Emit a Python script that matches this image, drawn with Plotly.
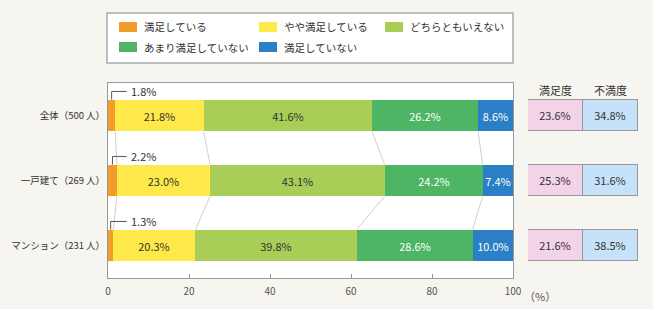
import plotly.graph_objects as go

categories = ["全体（500 人）", "一戸建て（269 人）", "マンション（231 人）"]
series_names = ["満足している", "やや満足している", "どちらともいえない", "あまり満足していない", "満足していない"]
v_satisfied = [1.8, 2.2, 1.3]
v_somewhat = [21.8, 23.0, 20.3]
v_neutral = [41.6, 43.1, 39.8]
v_not_much = [26.2, 24.2, 28.6]
v_not = [8.6, 7.4, 10.0]
sat_degree = [23.6, 25.3, 21.6]
dissat_degree = [34.8, 31.6, 38.5]
x_tickvals = [0, 20, 40, 60, 80, 100]
x_ticktext = ["0", "20", "40", "60", "80", "100"]

colors = ["#F39C2C", "#FFE94A", "#A8CE58", "#4DB563", "#2A7FC6"]
text_colors = ["#333333", "#333333", "#333333", "#FFFFFF", "#FFFFFF"]
series = [v_satisfied, v_somewhat, v_neutral, v_not_much, v_not]
FONT = "Noto Sans CJK JP"
BAR_W = 0.49

fig = go.Figure()
for i, (name, vals) in enumerate(zip(series_names, series)):
    fig.add_trace(go.Bar(
        y=categories, x=vals, orientation="h", name=name, width=BAR_W,
        marker=dict(color=colors[i], line=dict(width=0)),
        text=([""] * len(vals)) if i == 0 else [f"{v:.1f}%" for v in vals],
        textposition="inside", insidetextanchor="middle", constraintext="none", textangle=0,
        textfont=dict(family=FONT, size=11, color=text_colors[i]),
        showlegend=False, hoverinfo="skip",
    ))

# side table
fig.add_trace(go.Bar(
    y=categories, x=[1] * 3, orientation="h", xaxis="x2", width=BAR_W,
    marker=dict(color="#F2D3E8", line=dict(color="#999999", width=1)),
    text=[f"{v:.1f}%" for v in sat_degree], textposition="inside", textangle=0,
    insidetextanchor="middle", constraintext="none",
    textfont=dict(family=FONT, size=11, color="#333333"), showlegend=False, hoverinfo="skip"))
fig.add_trace(go.Bar(
    y=categories, x=[1] * 3, orientation="h", xaxis="x2", width=BAR_W,
    marker=dict(color="#C6E2FA", line=dict(color="#999999", width=1)),
    text=[f"{v:.1f}%" for v in dissat_degree], textposition="inside", textangle=0,
    insidetextanchor="middle", constraintext="none",
    textfont=dict(family=FONT, size=11, color="#333333"), showlegend=False, hoverinfo="skip"))

shapes = []
annotations = []
# white plot area
shapes.append(dict(type="rect", xref="x domain", yref="y domain", x0=0, x1=1, y0=0, y1=1,
                   fillcolor="#FFFFFF", line=dict(width=0), layer="below"))

# connector lines between rows
cums = []
for r in range(3):
    c = 0
    row = []
    for s in series[:-1]:
        c += s[r]
        row.append(c)
    cums.append(row)
for r in range(2):
    for k in range(4):
        shapes.append(dict(type="line", xref="x", yref="y",
                           x0=cums[r][k], y0=r + BAR_W / 2, x1=cums[r + 1][k], y1=r + 1 - BAR_W / 2,
                           line=dict(color="#CFCFCF", width=1), layer="below"))

# small-value leader labels
for r in range(3):
    xm = v_satisfied[r] / 2
    ytop = r - BAR_W / 2
    yl = ytop - 0.125
    shapes.append(dict(type="line", xref="x", yref="y", x0=xm, y0=ytop, x1=xm, y1=yl,
                       line=dict(color="#555555", width=1)))
    shapes.append(dict(type="line", xref="x", yref="y", x0=xm, y0=yl, x1=4.6, y1=yl,
                       line=dict(color="#555555", width=1)))
    annotations.append(dict(xref="x", yref="y", x=5.3, y=yl, text=f"{v_satisfied[r]:.1f}%",
                            showarrow=False, xanchor="left", yanchor="middle",
                            font=dict(family=FONT, size=11, color="#333333")))

# table headers
for xi, t in [(0.5, "満足度"), (1.5, "不満度")]:
    annotations.append(dict(xref="x2", yref="y", x=xi, y=-0.5 + 0.1, text=t, showarrow=False,
                            xanchor="center", yanchor="middle",
                            font=dict(family=FONT, size=11, color="#333333")))

# (%) unit
annotations.append(dict(xref="x", yref="paper", x=100, y=0, text="（%）", showarrow=False,
                        xanchor="left", yanchor="top", xshift=9, yshift=-8,
                        font=dict(family=FONT, size=11, color="#555555")))

# manual legend
W, H, L, B = 653, 309, 108, 31
pw, ph = W - L - 15, H - 83 - B


def px(xp):
    return (xp - L) / pw


def py(yp):
    return (H - B - yp) / ph


shapes.append(dict(type="rect", xref="paper", yref="paper", x0=px(107), x1=px(513),
                   y0=py(63), y1=py(13), fillcolor="#FFFFFF", line=dict(color="#AAAAAA", width=1.5)))
leg_pos = [(119, 27), (259, 27), (385, 27), (119, 47), (259, 47)]
for i, (name, (sx, sy)) in enumerate(zip(series_names, leg_pos)):
    shapes.append(dict(type="rect", xref="paper", yref="paper", x0=px(sx), x1=px(sx + 18),
                       y0=py(sy + 5), y1=py(sy - 5), fillcolor=colors[i], line=dict(width=0)))
    annotations.append(dict(xref="paper", yref="paper", x=px(sx + 23), y=py(sy), text=name,
                            showarrow=False, xanchor="left", yanchor="middle",
                            font=dict(family=FONT, size=10.5, color="#333333")))

fig.update_layout(
    width=W, height=H, margin=dict(l=L, r=15, t=83, b=B, autoexpand=False),
    paper_bgcolor="#F6F5EF", plot_bgcolor="#F6F5EF",
    barmode="stack", bargap=0,
    font=dict(family=FONT, size=11, color="#333333"),
    shapes=shapes, annotations=annotations,
    xaxis=dict(domain=[0, 405 / pw], range=[0, 100], tickvals=x_tickvals, ticktext=x_ticktext,
               ticks="inside", ticklen=4, tickcolor="#999999", showgrid=False, zeroline=False,
               showline=True, linecolor="#999999", linewidth=1, mirror=True, automargin=False,
               ticklabelstandoff=4,
               tickfont=dict(family=FONT, size=10, color="#555555")),
    xaxis2=dict(domain=[(528 - L) / pw, 1], range=[0, 2], anchor="y", visible=False, fixedrange=True),
    yaxis=dict(categoryorder="array", categoryarray=categories, autorange=False, range=[2.5, -0.5],
               showgrid=False, zeroline=False, showline=True, linecolor="#999999", linewidth=1,
               mirror=True, ticks="", ticklabelstandoff=0, automargin=False,
               tickfont=dict(family=FONT, size=9.5, color="#333333")),
)

fig.write_html("out.html")
